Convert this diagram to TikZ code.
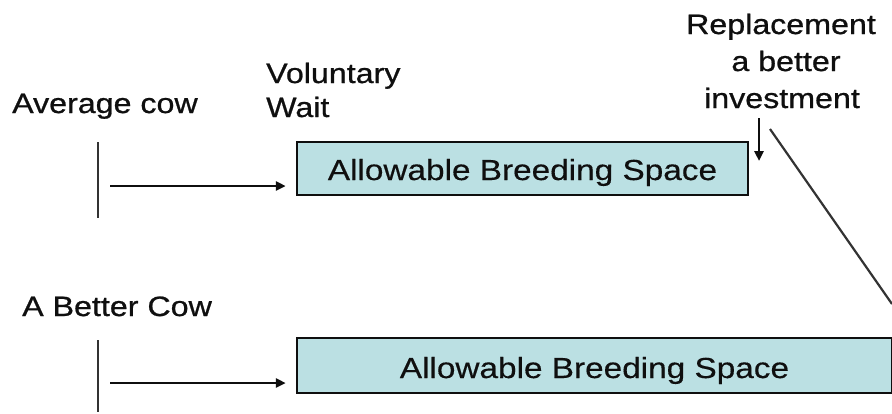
\documentclass[tikz,border=0pt]{standalone}
\usepackage{fontspec}
\setmainfont[FakeStretch=1.15,FakeBold=0.8]{Liberation Sans}
\newfontfamily\boxfont[FakeStretch=1.15,FakeBold=0.4]{Liberation Sans}
\usetikzlibrary{arrows.meta}
\definecolor{boxfill}{RGB}{187,224,227}
\definecolor{ink}{RGB}{15,15,15}
\tikzset{
  lbl/.style={font=\fontsize{28}{36}\selectfont, text=ink, inner sep=0pt},
  boxtext/.style={font=\boxfont\fontsize{29}{34}\selectfont, text=ink, inner sep=0pt},
  spacebox/.style={draw=ink, line width=2.5pt, fill=boxfill, inner sep=0pt},
  bar/.style={draw=ink!85, line width=2.5pt},
  arr/.style={draw=ink, line width=2.6pt, -{Triangle[length=10pt,width=9pt]}},
  thinline/.style={draw=ink!85, line width=2.2pt}
}
\begin{document}
\begin{tikzpicture}[x=1pt,y=-1pt]
\useasboundingbox (0,0) rectangle (892,413);
% labels
\node[lbl, anchor=base west] (avg) at (12,113) {Average cow};
\node[lbl, anchor=base west] (better) at (22,316) {A Better Cow};
\node[lbl, anchor=base west] (vol) at (266,83) {Voluntary};
\node[lbl, anchor=base west] (wait) at (266,117) {Wait};
\node[lbl, anchor=base] (rep1) at (781,34) {Replacement};
\node[lbl, anchor=base] (rep2) at (786,71) {a better};
\node[lbl, anchor=base] (rep3) at (782,108) {investment};
% boxes
\node[spacebox, minimum width=451pt, minimum height=53pt] (box1) at (522.5,168.5) {};
\node[boxtext, anchor=base] (box1t) at (522.5,180) {Allowable Breeding Space};
\node[spacebox, minimum width=595pt, minimum height=55pt] (box2) at (594.5,365.5) {};
\node[boxtext, anchor=base] (box2t) at (594.5,378) {Allowable Breeding Space};
% top row
\coordinate (v1a) at (98,142);
\coordinate (v1b) at (98,218);
\draw[bar] (v1a) -- (v1b);
\coordinate (a1) at (110,186);
\draw[arr, shorten >=10pt] (a1) -- (a1 -| box1.west);
% bottom row
\coordinate (v2a) at (98,340);
\coordinate (v2b) at (98,412);
\draw[bar] (v2a) -- (v2b);
\coordinate (a2) at (110,383);
\draw[arr, shorten >=10pt] (a2) -- (a2 -| box2.west);
% replacement pointers
\coordinate (d1) at (759,118);
\coordinate (d2) at (759,161);
\draw[arr] (d1) -- (d2);
\coordinate (s1) at (770,129);
\coordinate (s2) at (892,304);
\draw[thinline] (s1) -- (s2);
\end{tikzpicture}
\end{document}
